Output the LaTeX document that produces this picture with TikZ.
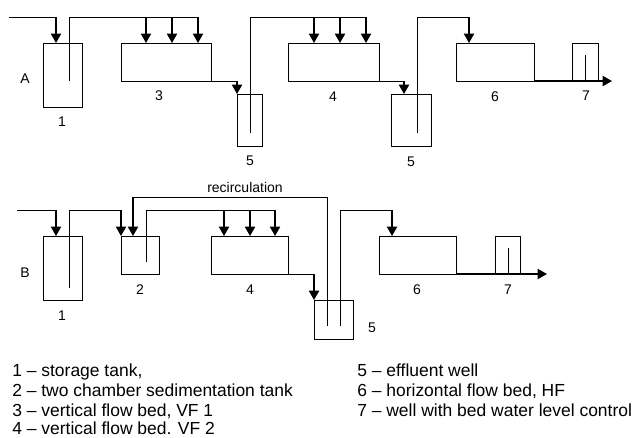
\documentclass[tikz,border=0pt]{standalone}
\usepackage{fontspec}
\setmainfont{Liberation Sans}
\usetikzlibrary{arrows.meta}
\tikzset{
    tank/.style={draw=black, line width=0.6pt},
    pipe/.style={line width=0.6pt},
    feed/.style={line width=1.2pt, -{Triangle[length=7pt,width=7.6pt]}},
    txt/.style={font=\fontsize{10.5pt}{12pt}\selectfont, inner sep=0pt},
    legend/.style={anchor=base west, inner sep=0pt, font=\fontsize{13.1pt}{15pt}\selectfont}
}
\begin{document}
\begin{tikzpicture}[x=0.75pt, y=-0.75pt]
    \useasboundingbox (0,0) rectangle (635,437);

    % Draw row A
    \draw[tank] (43,43) rectangle (82,107);
    \draw[tank] (121,43) rectangle (211,81);
    \draw[tank] (237,94) rectangle (262,146);
    \draw[tank] (288,43) rectangle (379,81);
    \draw[tank] (391,94) rectangle (431,146);
    \draw[tank] (456,43) rectangle (534,81);
    \draw[tank] (572,43) rectangle (598,81);

    % Coordinates for row A pipes
    \coordinate (inA) at (9,17);
    \coordinate (outOneA) at (69,81);
    \coordinate (outFiveA) at (250,133);
    \coordinate (outFiveAb) at (417,133);

    \draw[pipe] (inA) -- (56,17);
    \draw[feed] (56,17) -- (56,43);
    \draw[pipe] (outOneA) -- (69,17) -- (198,17);
    \foreach \x in {146,172,198}
        \draw[feed] (\x,17) -- (\x,43);
    \draw[pipe] (211,81) -- (237,81);
    \draw[feed] (237,81) -- (237,94);
    \draw[pipe] (outFiveA) -- (250,17) -- (366,17);
    \foreach \x in {314,340,366}
        \draw[feed] (\x,17) -- (\x,43);
    \draw[pipe] (379,81) -- (404,81);
    \draw[feed] (404,81) -- (404,94);
    \draw[pipe] (outFiveAb) -- (417,17) -- (469,17);
    \draw[feed] (469,17) -- (469,43);
    \draw[pipe] (585,55) -- (585,81);
    \draw[feed] (534,81) -- (612,81);

    % Label row A
    \node[txt] (labelA) at (25,79) {A};
    \node[txt] (oneA) at (62,122) {1};
    \node[txt] (threeA) at (159,96) {3};
    \node[txt] (fiveA) at (250,161) {5};
    \node[txt] (fourA) at (333,97) {4};
    \node[txt] (fiveAb) at (411,162) {5};
    \node[txt] (sixA) at (495,97) {6};
    \node[txt] (sevenA) at (586,96) {7};

    % Draw row B
    \draw[tank] (43,236) rectangle (82,300);
    \draw[tank] (121,236) rectangle (159,274);
    \draw[tank] (211,236) rectangle (288,274);
    \draw[tank] (314,300) rectangle (353,339);
    \draw[tank] (379,236) rectangle (456,274);
    \draw[tank] (495,236) rectangle (520,274);

    \draw[pipe] (17,210) -- (56,210);
    \draw[feed] (56,210) -- (56,236);
    \draw[pipe] (69,288) -- (69,210) -- (121,210);
    \draw[feed] (121,210) -- (121,236);
    \draw[pipe] (327,326) -- (327,197) -- (133,197);
    \draw[feed] (133,197) -- (133,236);
    \draw[pipe] (146,262) -- (146,210) -- (275,210);
    \foreach \x in {224,250,275}
        \draw[feed] (\x,210) -- (\x,236);
    \draw[pipe] (288,274) -- (314,274);
    \draw[feed] (314,274) -- (314,300);
    \draw[pipe] (340,326) -- (340,210) -- (392,210);
    \draw[feed] (392,210) -- (392,236);
    \draw[pipe] (508,248) -- (508,274);
    \draw[feed] (456,274) -- (547,274);

    % Label row B
    \node[txt] (labelB) at (25,273) {B};
    \node[txt] (oneB) at (62,316) {1};
    \node[txt] (twoB) at (140,290) {2};
    \node[txt] (fourB) at (250,290) {4};
    \node[txt] (fiveB) at (372,328) {5};
    \node[txt] (sixB) at (417,290) {6};
    \node[txt] (sevenB) at (508,290) {7};
    \node[txt] (recirc) at (245,187) {recirculation};

    % Legend
    \node[legend] (legOne) at (12,376) {1 – storage tank,};
    \node[legend] (legTwo) at (12,396) {2 – two chamber sedimentation tank};
    \node[legend] (legThree) at (12,416) {3 – vertical flow bed, VF 1};
    \node[legend] (legFour) at (12,434.5) {4 – vertical flow bed. VF 2};
    \node[legend] (legFive) at (357,376) {5 – effluent well};
    \node[legend] (legSix) at (357,396) {6 – horizontal flow bed, HF};
    \node[legend] (legSeven) at (357,416) {7 – well with bed water level control};
\end{tikzpicture}
\end{document}
